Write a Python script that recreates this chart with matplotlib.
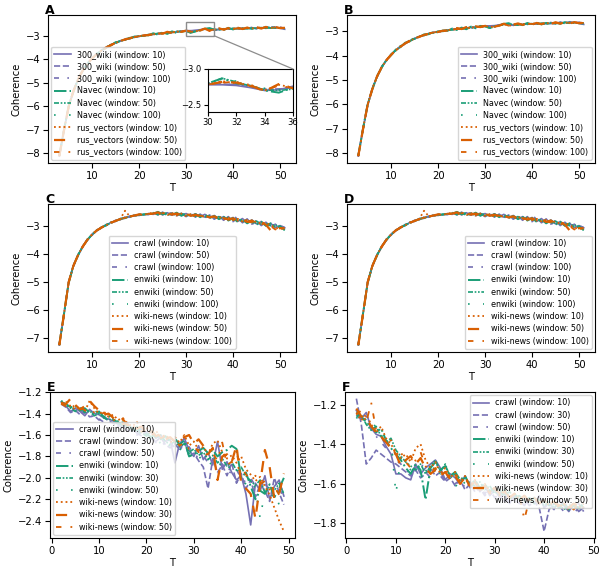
import matplotlib
matplotlib.use("Agg")
import matplotlib.pyplot as plt
from matplotlib.patches import Rectangle, ConnectionPatch

# ---- panels A / B : Russian embeddings ----
t_ru = list(range(3, 52))
ru_models = ["300_wiki", "Navec", "rus_vectors"]
ru_windows = [10, 50, 100]

wiki_w10 = [-8.12, -7.03, -6.01, -5.37, -4.85, -4.48, -4.18, -3.97, -3.77, -3.64,
            -3.49, -3.40, -3.29, -3.23, -3.15, -3.11, -3.04, -3.03, -2.98, -2.97,
            -2.92, -2.92, -2.88, -2.88, -2.84, -2.84, -2.80, -2.78, -2.78, -2.77,
            -2.74, -2.70, -2.71, -2.76, -2.72, -2.72, -2.69, -2.71, -2.68, -2.70,
            -2.67, -2.69, -2.66, -2.68, -2.64, -2.66, -2.63, -2.68, -2.72]
wiki_w50 = [-8.10, -7.00, -6.04, -5.34, -4.87, -4.45, -4.20, -3.95, -3.79, -3.61,
            -3.51, -3.37, -3.31, -3.21, -3.17, -3.09, -3.06, -3.01, -3.00, -2.95,
            -2.94, -2.90, -2.90, -2.86, -2.86, -2.82, -2.82, -2.79, -2.79, -2.78,
            -2.75, -2.71, -2.72, -2.74, -2.74, -2.70, -2.71, -2.69, -2.70, -2.68,
            -2.69, -2.64, -2.70, -2.62, -2.68, -2.61, -2.66, -2.63, -2.69]
wiki_w100 = [-8.13, -7.01, -6.03, -5.35, -4.86, -4.46, -4.19, -3.96, -3.78, -3.62,
             -3.50, -3.38, -3.30, -3.22, -3.16, -3.10, -3.05, -3.02, -2.99, -2.96,
             -2.93, -2.91, -2.89, -2.87, -2.85, -2.83, -2.81, -2.80, -2.79, -2.78,
             -2.76, -2.72, -2.72, -2.75, -2.73, -2.71, -2.70, -2.70, -2.69, -2.69,
             -2.68, -2.68, -2.67, -2.67, -2.66, -2.65, -2.65, -2.66, -2.70]
navec_w10 = [-8.11, -7.00, -6.00, -5.38, -4.84, -4.49, -4.17, -3.98, -3.75, -3.65,
             -3.47, -3.41, -3.27, -3.24, -3.13, -3.12, -3.03, -3.04, -2.97, -2.98,
             -2.89, -2.95, -2.85, -2.92, -2.81, -2.88, -2.78, -2.80, -2.87, -2.80,
             -2.77, -2.70, -2.67, -2.74, -2.70, -2.75, -2.66, -2.73, -2.65, -2.72,
             -2.66, -2.70, -2.65, -2.69, -2.63, -2.67, -2.64, -2.67, -2.68]
navec_w50 = [-8.12, -7.04, -5.99, -5.36, -4.88, -4.44, -4.21, -3.94, -3.80, -3.60,
             -3.52, -3.36, -3.32, -3.20, -3.18, -3.08, -3.07, -3.00, -3.01, -2.94,
             -2.95, -2.89, -2.91, -2.85, -2.87, -2.81, -2.83, -2.80, -2.87, -2.82,
             -2.76, -2.71, -2.70, -2.72, -2.75, -2.70, -2.72, -2.68, -2.71, -2.67,
             -2.70, -2.66, -2.69, -2.65, -2.68, -2.64, -2.67, -2.66, -2.67]
navec_w100 = [-8.10, -7.02, -6.02, -5.35, -4.86, -4.47, -4.19, -3.96, -3.78, -3.63,
              -3.50, -3.39, -3.30, -3.22, -3.16, -3.10, -3.05, -3.02, -2.99, -2.96,
              -2.93, -2.91, -2.89, -2.87, -2.85, -2.83, -2.81, -2.80, -2.86, -2.83,
              -2.77, -2.73, -2.71, -2.73, -2.72, -2.71, -2.70, -2.70, -2.69, -2.69,
              -2.68, -2.68, -2.67, -2.67, -2.66, -2.66, -2.65, -2.66, -2.67]
rus_w10 = [-8.13, -7.01, -6.03, -5.34, -4.87, -4.46, -4.20, -3.95, -3.79, -3.62,
           -3.51, -3.38, -3.31, -3.21, -3.17, -3.09, -3.06, -3.01, -3.00, -2.95,
           -2.94, -2.90, -2.90, -2.86, -2.86, -2.82, -2.82, -2.78, -2.83, -2.80,
           -2.78, -2.70, -2.78, -2.74, -2.70, -2.73, -2.69, -2.71, -2.68, -2.70,
           -2.66, -2.69, -2.65, -2.68, -2.64, -2.67, -2.63, -2.66, -2.65]
rus_w50 = [-8.12, -7.03, -6.01, -5.37, -4.85, -4.48, -4.18, -3.97, -3.77, -3.64,
           -3.49, -3.40, -3.29, -3.23, -3.15, -3.11, -3.04, -3.03, -2.98, -2.97,
           -2.93, -2.87, -2.91, -2.83, -2.88, -2.80, -2.83, -2.78, -2.82, -2.81,
           -2.77, -2.69, -2.79, -2.73, -2.68, -2.74, -2.67, -2.72, -2.66, -2.71,
           -2.65, -2.70, -2.63, -2.69, -2.62, -2.68, -2.63, -2.67, -2.66]
rus_w100 = [-8.11, -7.02, -6.02, -5.36, -4.86, -4.47, -4.19, -3.96, -3.78, -3.63,
            -3.50, -3.39, -3.30, -3.22, -3.16, -3.10, -3.05, -3.02, -2.99, -2.96,
            -2.93, -2.91, -2.89, -2.87, -2.85, -2.83, -2.81, -2.79, -2.81, -2.82,
            -2.76, -2.70, -2.77, -2.73, -2.72, -2.71, -2.69, -2.70, -2.68, -2.69,
            -2.67, -2.68, -2.66, -2.67, -2.65, -2.66, -2.64, -2.65, -2.66]

# ---- panels C / D : English embeddings ----
t_en = list(range(3, 52))
en_models = ["crawl", "enwiki", "wiki-news"]
en_windows = [10, 50, 100]

crawl_w10 = [-7.24, -6.14, -5.02, -4.40, -4.05, -3.71, -3.50, -3.28, -3.17, -3.03,
             -2.98, -2.86, -2.83, -2.73, -2.72, -2.64, -2.64, -2.58, -2.60, -2.55,
             -2.58, -2.50, -2.60, -2.52, -2.61, -2.53, -2.62, -2.55, -2.64, -2.56,
             -2.66, -2.58, -2.70, -2.62, -2.74, -2.66, -2.78, -2.69, -2.83, -2.73,
             -2.88, -2.78, -2.92, -2.84, -2.98, -2.90, -3.05, -2.98, -3.06]
crawl_w50 = [-7.25, -6.16, -4.98, -4.44, -4.01, -3.75, -3.46, -3.32, -3.13, -3.07,
             -2.94, -2.90, -2.79, -2.77, -2.68, -2.68, -2.60, -2.62, -2.56, -2.59,
             -2.51, -2.60, -2.50, -2.62, -2.53, -2.63, -2.55, -2.66, -2.56, -2.68,
             -2.57, -2.71, -2.60, -2.75, -2.64, -2.79, -2.66, -2.84, -2.70, -2.88,
             -2.74, -2.93, -2.80, -2.98, -2.86, -3.03, -2.93, -3.07, -3.03]
crawl_w100 = [-7.23, -6.15, -5.01, -4.43, -4.02, -3.74, -3.47, -3.31, -3.14, -3.06,
              -2.95, -2.89, -2.80, -2.76, -2.69, -2.67, -2.61, -2.61, -2.57, -2.58,
              -2.55, -2.57, -2.53, -2.56, -2.52, -2.57, -2.55, -2.60, -2.57, -2.63,
              -2.60, -2.68, -2.63, -2.74, -2.66, -2.77, -2.70, -2.66, -2.72, -2.88,
              -2.76, -2.95, -2.80, -2.86, -2.97, -2.93, -3.06, -2.98, -3.05]
enwiki_w10 = [-7.24, -6.13, -5.03, -4.41, -4.04, -3.72, -3.49, -3.29, -3.16, -3.04,
              -2.97, -2.87, -2.82, -2.74, -2.71, -2.65, -2.63, -2.59, -2.59, -2.56,
              -2.56, -2.49, -2.58, -2.53, -2.60, -2.52, -2.63, -2.55, -2.65, -2.57,
              -2.68, -2.59, -2.71, -2.64, -2.75, -2.67, -2.80, -2.71, -2.85, -2.76,
              -2.90, -2.80, -2.95, -2.84, -2.99, -2.90, -3.04, -3.00, -3.14]
enwiki_w50 = [-7.25, -6.17, -4.99, -4.43, -4.02, -3.74, -3.47, -3.31, -3.14, -3.06,
              -2.95, -2.89, -2.80, -2.76, -2.69, -2.67, -2.61, -2.61, -2.57, -2.58,
              -2.53, -2.59, -2.52, -2.61, -2.54, -2.62, -2.55, -2.63, -2.58, -2.65,
              -2.60, -2.67, -2.63, -2.70, -2.66, -2.74, -2.69, -2.78, -2.74, -2.83,
              -2.78, -2.88, -2.82, -2.93, -2.89, -2.98, -2.95, -3.06, -3.12]
enwiki_w100 = [-7.24, -6.16, -5.00, -4.42, -4.03, -3.73, -3.48, -3.30, -3.15, -3.05,
               -2.96, -2.88, -2.81, -2.75, -2.70, -2.66, -2.62, -2.60, -2.58, -2.57,
               -2.56, -2.55, -2.55, -2.55, -2.56, -2.56, -2.57, -2.58, -2.59, -2.61,
               -2.62, -2.64, -2.66, -2.68, -2.70, -2.72, -2.74, -2.76, -2.78, -2.81,
               -2.83, -2.86, -2.89, -2.92, -2.96, -2.98, -3.02, -3.06, -3.14]
news_w10 = [-7.23, -6.12, -5.02, -4.41, -4.04, -3.72, -3.49, -3.29, -3.16, -3.04,
            -2.97, -2.87, -2.82, -2.74, -2.45, -2.65, -2.63, -2.59, -2.59, -2.56,
            -2.52, -2.59, -2.51, -2.60, -2.54, -2.62, -2.55, -2.64, -2.57, -2.66,
            -2.60, -2.69, -2.63, -2.72, -2.66, -2.76, -2.70, -2.79, -2.74, -2.83,
            -2.78, -2.88, -2.83, -2.92, -2.88, -2.97, -3.05, -3.10, -3.07]
news_w50 = [-7.25, -6.15, -5.00, -4.42, -4.03, -3.73, -3.48, -3.30, -3.15, -3.05,
            -2.96, -2.88, -2.81, -2.75, -2.70, -2.66, -2.62, -2.58, -2.56, -2.57,
            -2.55, -2.51, -2.57, -2.53, -2.59, -2.55, -2.61, -2.56, -2.63, -2.59,
            -2.66, -2.62, -2.69, -2.65, -2.73, -2.68, -2.77, -2.72, -2.81, -2.76,
            -2.85, -2.80, -2.90, -2.85, -2.95, -3.15, -3.10, -3.07, -3.08]
news_w100 = [-7.24, -6.14, -5.01, -4.42, -4.03, -3.73, -3.48, -3.30, -3.15, -3.05,
             -2.96, -2.88, -2.81, -2.75, -2.70, -2.66, -2.62, -2.60, -2.58, -2.56,
             -2.56, -2.55, -2.54, -2.56, -2.55, -2.57, -2.57, -2.59, -2.59, -2.61,
             -2.63, -2.64, -2.67, -2.67, -2.71, -2.71, -2.75, -2.76, -2.80, -2.80,
             -2.84, -2.86, -2.89, -2.92, -2.95, -3.00, -3.12, -3.05, -3.11]

# ---- panel E ----
t_e = list(range(2, 50))
small_windows = [10, 30, 50]

e_crawl_w10 = [-1.29, -1.33, -1.38, -1.35, -1.38, -1.42, -1.36, -1.40, -1.41, -1.44, -1.45, -1.47,
               -1.50, -1.52, -1.49, -1.55, -1.58, -1.54, -1.60, -1.57, -1.63, -1.60, -1.66, -1.64,
               -1.86, -1.68, -1.63, -1.74, -1.80, -1.70, -1.83, -1.76, -1.88, -1.66, -1.92, -1.85,
               -1.95, -2.02, -1.98, -2.15, -2.44, -2.05, -2.12, -1.98, -2.20, -2.08, -2.02, -2.17]
e_crawl_w30 = [-1.31, -1.34, -1.39, -1.37, -1.41, -1.38, -1.43, -1.42, -1.46, -1.43, -1.47, -1.49,
               -1.52, -1.50, -1.56, -1.53, -1.58, -1.61, -1.57, -1.63, -1.66, -1.62, -1.69, -1.72,
               -1.68, -1.74, -1.66, -1.80, -1.77, -1.84, -1.90, -2.10, -1.82, -1.95, -1.88, -1.98,
               -1.86, -2.05, -1.96, -2.10, -2.02, -2.18, -2.06, -2.12, -2.22, -2.00, -2.14, -2.25]
e_crawl_w50 = [-1.30, -1.32, -1.36, -1.39, -1.37, -1.40, -1.44, -1.41, -1.45, -1.48, -1.46, -1.50,
               -1.49, -1.54, -1.57, -1.55, -1.60, -1.58, -1.64, -1.61, -1.67, -1.65, -1.70, -1.67,
               -1.72, -1.70, -1.75, -1.71, -1.78, -1.81, -1.79, -1.86, -1.84, -1.90, -1.87, -1.93,
               -1.96, -1.92, -2.01, -2.04, -2.00, -2.08, -2.11, -2.05, -2.13, -2.16, -2.10, -2.18]
e_enwiki_w10 = [-1.29, -1.31, -1.34, -1.33, -1.37, -1.35, -1.39, -1.41, -1.38, -1.43, -1.42, -1.46,
                -1.48, -1.51, -1.50, -1.54, -1.56, -1.53, -1.59, -1.62, -1.58, -1.64, -1.61, -1.66,
                -1.63, -1.69, -1.65, -1.80, -1.78, -1.75, -1.72, -1.77, -1.74, -1.80, -1.76, -1.74,
                -1.70, -1.73, -2.00, -1.95, -2.08, -2.20, -2.12, -2.15, -2.06, -2.18, -2.10, -2.00]
e_enwiki_w30 = [-1.30, -1.32, -1.35, -1.38, -1.34, -1.39, -1.37, -1.42, -1.40, -1.44, -1.46, -1.44,
                -1.50, -1.48, -1.53, -1.56, -1.52, -1.58, -1.61, -1.57, -1.63, -1.60, -1.66, -1.69,
                -1.66, -1.71, -1.68, -1.76, -1.73, -1.79, -1.76, -1.83, -1.79, -1.86, -1.82, -1.89,
                -1.85, -1.93, -1.90, -1.98, -2.03, -2.07, -2.02, -2.14, -2.08, -2.12, -2.05, -2.15]
e_enwiki_w50 = [-1.28, -1.30, -1.36, -1.34, -1.40, -1.38, -1.42, -1.39, -1.37, -1.45, -1.43, -1.48,
                -1.47, -1.53, -1.51, -1.57, -1.55, -1.60, -1.58, -1.65, -1.62, -1.68, -1.64, -1.71,
                -1.69, -1.74, -1.70, -1.77, -1.75, -1.82, -1.79, -1.85, -1.88, -1.83, -1.91, -1.87,
                -1.94, -1.90, -2.00, -2.06, -2.02, -2.10, -2.38, -2.12, -2.20, -2.14, -2.25, -2.08]
e_news_w10 = [-1.30, -1.29, -1.33, -1.36, -1.34, -1.38, -1.28, -1.35, -1.40, -1.38, -1.43, -1.41,
              -1.46, -1.44, -1.49, -1.52, -1.48, -1.55, -1.53, -1.59, -1.56, -1.62, -1.60, -1.64,
              -1.62, -1.67, -1.60, -1.70, -1.66, -1.74, -1.71, -1.78, -1.68, -1.65, -1.76, -1.82,
              -1.79, -1.86, -1.80, -1.92, -1.97, -2.03, -1.99, -2.08, -2.16, -2.28, -2.40, -2.50]
e_news_w30 = [-1.30, -1.31, -1.26, -1.32, -1.36, -1.33, -1.28, -1.33, -1.37, -1.41, -1.40, -1.44,
              -1.47, -1.45, -1.51, -1.49, -1.54, -1.52, -1.58, -1.56, -1.61, -1.59, -1.64, -1.62,
              -1.66, -1.64, -1.62, -1.60, -1.68, -1.64, -1.70, -1.78, -1.72, -2.02, -1.80, -1.78,
              -1.85, -1.70, -2.05, -2.10, -2.15, -2.38, -2.05, -1.74, -1.90, -2.20, -2.15, -1.96]
e_news_w50 = [-1.31, -1.33, -1.30, -1.35, -1.33, -1.37, -1.35, -1.39, -1.42, -1.39, -1.44, -1.46,
              -1.45, -1.50, -1.48, -1.53, -1.51, -1.57, -1.55, -1.60, -1.58, -1.63, -1.61, -1.67,
              -1.64, -1.70, -1.67, -1.73, -1.70, -1.76, -1.74, -1.80, -1.77, -1.84, -1.67, -1.88,
              -1.85, -1.92, -1.89, -1.97, -2.01, -1.98, -2.06, -2.03, -2.11, -2.08, -2.16, -2.12]

# ---- panel F ----
t_f = list(range(2, 49))

f_crawl_w10 = [-1.23, -1.27, -1.24, -1.32, -1.35, -1.36, -1.41, -1.45, -1.55, -1.55, -1.57, -1.58,
               -1.50, -1.55, -1.52, -1.50, -1.48, -1.52, -1.58, -1.55, -1.57, -1.60, -1.56, -1.62,
               -1.59, -1.64, -1.61, -1.66, -1.63, -1.67, -1.65, -1.70, -1.66, -1.68, -1.71, -1.67,
               -1.70, -1.66, -1.72, -1.69, -1.73, -1.68, -1.71, -1.74, -1.70, -1.74, -1.72]
f_crawl_w30 = [-1.17, -1.30, -1.50, -1.47, -1.43, -1.45, -1.47, -1.49, -1.50, -1.52, -1.54, -1.56,
               -1.53, -1.57, -1.55, -1.52, -1.56, -1.54, -1.59, -1.57, -1.61, -1.58, -1.63, -1.60,
               -1.64, -1.62, -1.66, -1.63, -1.67, -1.65, -1.69, -1.66, -1.68, -1.70, -1.67, -1.71,
               -1.69, -1.72, -1.84, -1.73, -1.70, -1.72, -1.69, -1.73, -1.71, -1.70, -1.74]
f_crawl_w50 = [-1.25, -1.28, -1.26, -1.33, -1.36, -1.39, -1.42, -1.44, -1.48, -1.50, -1.53, -1.55,
               -1.52, -1.49, -1.54, -1.57, -1.53, -1.56, -1.59, -1.56, -1.60, -1.58, -1.62, -1.59,
               -1.63, -1.61, -1.65, -1.62, -1.66, -1.64, -1.68, -1.65, -1.69, -1.67, -1.70, -1.68,
               -1.71, -1.69, -1.72, -1.70, -1.73, -1.71, -1.74, -1.72, -1.75, -1.72, -1.73]
f_enwiki_w10 = [-1.24, -1.26, -1.29, -1.31, -1.34, -1.32, -1.38, -1.42, -1.45, -1.48, -1.52, -1.55,
                -1.50, -1.53, -1.68, -1.52, -1.49, -1.53, -1.51, -1.56, -1.54, -1.58, -1.56, -1.61,
                -1.58, -1.62, -1.60, -1.64, -1.62, -1.66, -1.63, -1.67, -1.65, -1.68, -1.66, -1.69,
                -1.67, -1.70, -1.68, -1.71, -1.69, -1.72, -1.70, -1.73, -1.71, -1.72, -1.70]
f_enwiki_w30 = [-1.26, -1.25, -1.30, -1.33, -1.31, -1.36, -1.39, -1.37, -1.43, -1.46, -1.49, -1.51,
                -1.53, -1.50, -1.55, -1.51, -1.48, -1.54, -1.50, -1.57, -1.55, -1.59, -1.57, -1.60,
                -1.61, -1.59, -1.63, -1.61, -1.65, -1.63, -1.66, -1.64, -1.67, -1.66, -1.69, -1.67,
                -1.70, -1.68, -1.71, -1.69, -1.72, -1.70, -1.73, -1.71, -1.70, -1.73, -1.71]
f_enwiki_w50 = [-1.27, -1.24, -1.28, -1.32, -1.30, -1.35, -1.40, -1.38, -1.65, -1.47, -1.50, -1.53,
                -1.55, -1.49, -1.53, -1.56, -1.50, -1.55, -1.53, -1.58, -1.62, -1.57, -1.60, -1.63,
                -1.60, -1.64, -1.62, -1.65, -1.63, -1.67, -1.64, -1.68, -1.66, -1.69, -1.67, -1.70,
                -1.68, -1.71, -1.69, -1.72, -1.70, -1.73, -1.71, -1.69, -1.72, -1.70, -1.73]
f_news_w10 = [-1.24, -1.28, -1.25, -1.30, -1.34, -1.31, -1.37, -1.40, -1.44, -1.47, -1.45, -1.49,
              -1.42, -1.40, -1.48, -1.52, -1.49, -1.55, -1.52, -1.57, -1.54, -1.59, -1.56, -1.61,
              -1.58, -1.63, -1.60, -1.64, -1.62, -1.66, -1.63, -1.67, -1.65, -1.68, -1.66, -1.69,
              -1.67, -1.70, -1.68, -1.71, -1.69, -1.72, -1.70, -1.73, -1.71, -1.72, -1.70]
f_news_w30 = [-1.22, -1.26, -1.27, -1.31, -1.34, -1.36, -1.39, -1.42, -1.45, -1.51, -1.48, -1.46,
              -1.50, -1.47, -1.52, -1.55, -1.53, -1.56, -1.54, -1.58, -1.56, -1.60, -1.57, -1.61,
              -1.59, -1.63, -1.61, -1.64, -1.62, -1.65, -1.64, -1.67, -1.65, -1.68, -1.66, -1.69,
              -1.67, -1.70, -1.68, -1.70, -1.69, -1.71, -1.70, -1.72, -1.70, -1.71, -1.70]
f_news_w50 = [-1.25, -1.23, -1.29, -1.19, -1.33, -1.36, -1.40, -1.38, -1.46, -1.44, -1.49, -1.52,
              -1.48, -1.44, -1.51, -1.54, -1.52, -1.56, -1.53, -1.58, -1.55, -1.60, -1.57, -1.62,
              -1.59, -1.64, -1.61, -1.65, -1.62, -1.66, -1.64, -1.67, -1.65, -1.66, -1.78, -1.68,
              -1.66, -1.70, -1.68, -1.71, -1.69, -1.72, -1.70, -1.71, -1.73, -1.70, -1.72]

ru_data = [[wiki_w10, wiki_w50, wiki_w100],
           [navec_w10, navec_w50, navec_w100],
           [rus_w10, rus_w50, rus_w100]]
en_data = [[crawl_w10, crawl_w50, crawl_w100],
           [enwiki_w10, enwiki_w50, enwiki_w100],
           [news_w10, news_w50, news_w100]]
e_data = [[e_crawl_w10, e_crawl_w30, e_crawl_w50],
          [e_enwiki_w10, e_enwiki_w30, e_enwiki_w50],
          [e_news_w10, e_news_w30, e_news_w50]]
f_data = [[f_crawl_w10, f_crawl_w30, f_crawl_w50],
          [f_enwiki_w10, f_enwiki_w30, f_enwiki_w50],
          [f_news_w10, f_news_w30, f_news_w50]]

# zoomed window of panel A (the y range is flipped, as in the original)
inset_xlim = (30, 36)
inset_ylim = (-2.4, -3.0)

colors = ["#7570b3", "#1b9e77", "#d95f02"]
styles = [["-", "--", (0, (3, 5, 1, 5))],
          ["-.", (0, (3, 1, 1, 1, 1, 1)), (0, (1, 8))],
          [":", (0, (5, 4)), (0, (3, 5, 1, 5))]]
widths = [[1.2, 1.2, 1.2], [1.4, 1.2, 1.2], [1.3, 1.6, 1.3]]

plt.rcParams["font.size"] = 7.2
plt.rcParams["legend.fontsize"] = 5.8

W, H = 600, 572
fig = plt.figure(figsize=(W / 100, H / 100), dpi=100)


def add_axes_px(left, top, right, bottom):
    return fig.add_axes([left / W, 1 - bottom / H, (right - left) / W, (bottom - top) / H])


def draw_lines(ax, t, data, models, windows, labels=True):
    for g, model in enumerate(models):
        for k, w in enumerate(windows):
            ax.plot(t, data[g][k], color=colors[g], linestyle=styles[g][k], lw=widths[g][k],
                    label=f"{model} (window: {w})" if labels else None)


def draw_panel(ax, letter, t, data, models, windows, loc):
    draw_lines(ax, t, data, models, windows)
    ax.set_xlabel("T", labelpad=2)
    ax.set_ylabel("Coherence", labelpad=3)
    ax.tick_params(labelsize=7.2, pad=2)
    ax.text(-0.012, 1.008, letter, transform=ax.transAxes, fontsize=9,
            fontweight="bold", ha="left", va="baseline")
    ax.legend(loc=loc, labelspacing=0.4, borderaxespad=0.4)


ax_a = add_axes_px(48, 15, 296, 163)
ax_b = add_axes_px(347, 15, 595, 163)
ax_c = add_axes_px(48, 204, 296, 352)
ax_d = add_axes_px(347, 204, 595, 352)
ax_e = add_axes_px(50, 392, 295, 538)
ax_f = add_axes_px(345, 392, 595, 538)

draw_panel(ax_a, "A", t_ru, ru_data, ru_models, ru_windows, "lower left")
draw_panel(ax_b, "B", t_ru, ru_data, ru_models, ru_windows, "lower right")
draw_panel(ax_c, "C", t_en, en_data, en_models, en_windows, "lower center")
draw_panel(ax_d, "D", t_en, en_data, en_models, en_windows, "lower right")
draw_panel(ax_e, "E", t_e, e_data, en_models, small_windows, "lower left")
draw_panel(ax_f, "F", t_f, f_data, en_models, small_windows, "upper right")

# inset for panel A
axins = add_axes_px(208, 69, 293, 112)
draw_lines(axins, t_ru, ru_data, ru_models, ru_windows, labels=False)
axins.set_xlim(*inset_xlim)
axins.set_ylim(*inset_ylim)
axins.set_xticks([30, 32, 34, 36])
axins.set_yticks([-3.0, -2.5])
axins.tick_params(labelsize=6, pad=1.5, length=3)

ax_a.add_patch(Rectangle((inset_xlim[0], inset_ylim[1]), inset_xlim[1] - inset_xlim[0],
                         inset_ylim[0] - inset_ylim[1], fill=False, ec="0.55", lw=1, zorder=5))
con = ConnectionPatch(xyA=(inset_xlim[1], inset_ylim[1]), coordsA=ax_a.transData,
                      xyB=(inset_xlim[1], inset_ylim[1]), coordsB=axins.transData,
                      color="0.55", lw=0.9)
fig.add_artist(con)

fig.savefig("out.png", dpi=100)
